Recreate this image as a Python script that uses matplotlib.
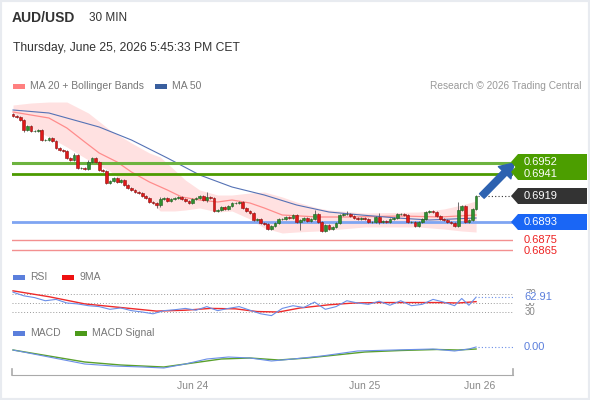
import numpy as np
import matplotlib.pyplot as plt
from matplotlib.patches import Rectangle, Polygon

plt.rcParams['font.family'] = ['Liberation Sans', 'DejaVu Sans']

W, H = 590, 400

# Świece 30 min: zamknięcia, pierwsze otwarcie, knoty (w pipsach)
first_open = 0.7001
closes = [
    0.6999, 0.6998, 0.6995, 0.6985, 0.6989, 0.6984, 0.6984, 0.6985, 0.6975, 0.6975,
    0.6977, 0.6974, 0.6967, 0.6965, 0.6964, 0.6957, 0.6955, 0.6960, 0.6947, 0.6947,
    0.6946, 0.6953, 0.6957, 0.6953, 0.6945, 0.6944, 0.6932, 0.6934, 0.6937, 0.6933,
    0.6935, 0.6930, 0.6927, 0.6925, 0.6923, 0.6922, 0.6919, 0.6917, 0.6913, 0.6912,
    0.6910, 0.6916, 0.6917, 0.6914, 0.6916, 0.6917, 0.6918, 0.6916, 0.6914, 0.6912,
    0.6916, 0.6917, 0.6919, 0.6915, 0.6918, 0.6917, 0.6904, 0.6905, 0.6908, 0.6906,
    0.6909, 0.6912, 0.6912, 0.6913, 0.6907, 0.6904, 0.6902, 0.6895, 0.6896, 0.6892,
    0.6891, 0.6886, 0.6889, 0.6892, 0.6896, 0.6896, 0.6898, 0.6897, 0.6900, 0.6893,
    0.6895, 0.6897, 0.6894, 0.6896, 0.6901, 0.6893, 0.6884, 0.6890, 0.6886, 0.6888,
    0.6892, 0.6900, 0.6901, 0.6901, 0.6899, 0.6897, 0.6896, 0.6897, 0.6896, 0.6893,
    0.6893, 0.6898, 0.6893, 0.6894, 0.6893, 0.6896, 0.6897, 0.6901, 0.6901, 0.6900,
    0.6893, 0.6893, 0.6889, 0.6893, 0.6896, 0.6903, 0.6904, 0.6903, 0.6899, 0.6896,
    0.6895, 0.6893, 0.6892, 0.6889, 0.6905, 0.6909, 0.6893, 0.6895, 0.6906, 0.6919,
]
upper_wick = [
    1, 1, 1, 1, 1, 1, 1, 1, 1, 1,
    1, 1, 1, 1, 1, 1, 1, 2, 1, 1,
    1, 2, 1, 1, 1, 1, 1, 1, 1, 1,
    1, 1, 1, 1, 1, 1, 1, 1, 1, 1,
    1, 2, 1, 1, 1, 1, 1, 1, 1, 1,
    1, 1, 1, 1, 5, 1, 1, 1, 1, 1,
    1, 1, 1, 1, 1, 1, 1, 1, 1, 1,
    1, 1, 1, 1, 1, 1, 1, 1, 1, 1,
    1, 1, 1, 1, 4, 1, 1, 1, 1, 1,
    1, 1, 1, 3, 1, 1, 1, 1, 1, 1,
    1, 1, 4, 1, 1, 1, 1, 1, 1, 1,
    1, 1, 1, 1, 1, 1, 1, 1, 1, 1,
    1, 1, 1, 1, 8, 1, 1, 1, 1, 1,
]
lower_wick = [
    1, 1, 1, 2, 1, 1, 1, 1, 1, 1,
    1, 1, 1, 1, 1, 1, 1, 1, 1, 1,
    1, 1, 1, 1, 1, 1, 1, 1, 1, 1,
    1, 1, 1, 1, 1, 1, 1, 1, 1, 1,
    3, 2, 1, 1, 1, 1, 1, 1, 1, 1,
    1, 1, 1, 1, 2, 1, 1, 1, 1, 1,
    1, 1, 1, 1, 1, 1, 1, 1, 1, 1,
    1, 1, 1, 1, 1, 1, 1, 1, 1, 1,
    8, 1, 1, 1, 1, 1, 1, 1, 1, 1,
    1, 1, 1, 1, 1, 1, 1, 1, 1, 1,
    1, 1, 2, 1, 1, 1, 1, 1, 1, 1,
    1, 1, 1, 1, 1, 1, 1, 1, 1, 1,
    1, 1, 1, 1, 1, 1, 1, 1, 1, 1,
]

# Średnie i wstęgi (indeks świecy, cena)
ma50_idx = [0, 10, 24, 33, 43, 52, 61, 70, 79, 88, 97, 107, 116, 129]
ma50_val = [0.7005, 0.7002, 0.6988, 0.6975, 0.6957, 0.6940, 0.6928, 0.6920,
            0.6910, 0.6903, 0.6900, 0.6897, 0.6895, 0.6897]
ma20_idx = [0, 10, 15, 20, 24, 29, 33, 38, 43, 47, 52, 57, 61, 66, 70, 75, 85, 94, 108, 119, 129]
ma20_val = [0.7003, 0.6997, 0.6987, 0.6973, 0.6962, 0.6953, 0.6943, 0.6933, 0.6925,
            0.6918, 0.6915, 0.6913, 0.6915, 0.6912, 0.6907, 0.6900, 0.6898, 0.6898,
            0.6899, 0.6898, 0.6900]
bb_idx = [0, 5, 10, 15, 21, 27, 33, 38, 41, 45, 48, 52, 57, 61, 66, 70, 75, 79, 85,
          88, 98, 113, 120, 125, 129]
bb_up = [0.7010, 0.7012, 0.7013, 0.7013, 0.7002, 0.6985, 0.6972, 0.6962, 0.6958,
         0.6945, 0.6935, 0.6925, 0.6920, 0.6920, 0.6922, 0.6923, 0.6918, 0.6913,
         0.6907, 0.6905, 0.6902, 0.6903, 0.6906, 0.6910, 0.6914]
bb_dn = [0.7002, 0.6987, 0.6978, 0.6968, 0.6955, 0.6944, 0.6927, 0.6915, 0.6904,
         0.6904, 0.6905, 0.6907, 0.6903, 0.6904, 0.6896, 0.6887, 0.6882, 0.6883,
         0.6884, 0.6885, 0.6888, 0.6888, 0.6886, 0.6884, 0.6883]

# Poziomy
resistances = [0.6952, 0.6941]
last_price = 0.6919
pivot = 0.6893
supports = [0.6875, 0.6865]

# RSI i 9MA
rsi_idx = list(range(0, 124, 3)) + [125, 127, 129]
rsi_val = [74, 66, 62, 55, 58, 50, 48, 44, 42, 36, 39, 33, 30, 26, 33, 35, 38, 34,
           42, 33, 38, 42, 34, 26, 22, 38, 44, 40, 52, 36, 42, 55, 50, 47, 54, 45,
           55, 44, 47, 58, 52, 44, 60, 45, 63]
rsi_last = 62.91
rsi_levels = [70, 50, 30]
ma9_idx = [0, 10, 20, 30, 40, 48, 55, 62, 68, 74, 80, 88, 95, 102, 110, 118, 124, 129]
ma9_val = [77, 64, 48, 40, 32, 34, 38, 37, 31, 30, 39, 46, 50, 51, 51, 51, 50, 53]

# MACD (w pipsach)
macd_idx = [0, 10, 20, 28, 36, 42, 48, 54, 60, 66, 72, 78, 86, 96, 106, 117, 123, 127, 129]
macd_val = [-3, -10, -17, -19, -20, -21, -17, -12, -10, -11, -14, -12, -9, -4, -3, -2, -4, -2, 0]
sig_idx = [0, 10, 20, 30, 42, 50, 58, 66, 74, 82, 90, 98, 108, 118, 124, 129]
sig_val = [-3, -9, -15, -18, -20, -16, -12, -11, -13, -11, -8, -5, -3.5, -2.5, -3, -2]

tick_pos = [50.1, 98.0, 130.1]
tick_labels = ["Jun 24", "Jun 25", "Jun 26"]

XMIN, XMAX = -0.28, 139.28


def rect(x0, y0, x1, y1):
    return [x0 / W, 1 - y1 / H, (x1 - x0) / W, (y1 - y0) / H]


def fp(x, y):
    return (x / W, 1 - y / H)


fig = plt.figure(figsize=(W / 100, H / 100), dpi=100)
fig.patch.set_facecolor('white')
fig.add_artist(Rectangle((0, 0), 1, 1, transform=fig.transFigure, fill=False,
                         edgecolor='#e8ebf0', lw=3))

# Nagłówek
fig.text(*fp(12, 18), "AUD/USD", fontsize=10, fontweight='bold', color='#333333', va='center')
fig.text(*fp(89, 18), "30 MIN", fontsize=8.5, color='#333333', va='center')
fig.text(*fp(13, 48), "Thursday, June 25, 2026 5:45:33 PM CET", fontsize=8.7,
         color='#333333', va='center')


def legend_item(x, y, color, label):
    fig.add_artist(Rectangle(fp(x, y + 2.5), 12 / W, 5 / H, transform=fig.transFigure,
                             color=color, lw=0))
    fig.text(*fp(x + 17, y), label, fontsize=7.5, color='#777777', va='center')


legend_item(13, 86, '#ff8080', "MA 20 + Bollinger Bands")
legend_item(155, 86, '#3a5f9e', "MA 50")
fig.text(*fp(581, 86), "Research © 2026 Trading Central", fontsize=7.3, color='#999999',
         va='center', ha='right')
legend_item(13, 277, '#5b7fdc', "RSI")
legend_item(62, 277, '#ee1111', "9MA")
legend_item(13, 333, '#5b7fdc', "MACD")
legend_item(75, 333, '#4c9a1a', "MACD Signal")

# Wykres główny
ax = fig.add_axes(rect(12, 100, 513, 258))
ax.set_xlim(XMIN, XMAX)
ax.set_ylim(0.6857, 0.7015)
ax.axis('off')

ax.fill_between(bb_idx, bb_dn, bb_up, color='#ffdcdc', alpha=0.85, lw=0)
ax.plot(ma20_idx, ma20_val, color='#ff8c8c', lw=0.9)
ax.plot(ma50_idx, ma50_val, color='#5572b5', lw=0.8)

ax.axhline(resistances[0], color='#6db33f', lw=2.2)
ax.axhline(resistances[1], color='#4c9a00', lw=2.0)
ax.axhline(pivot, color='#7fa5f2', lw=2.0)
for s in supports:
    ax.axhline(s, color='#f39090', lw=1.0)

c = np.array(closes)
o = np.r_[first_open, c[:-1]]
idx = np.arange(len(c))
hi = np.maximum(o, c) + np.array(upper_wick) * 0.0001
lo = np.minimum(o, c) - np.array(lower_wick) * 0.0001
up = c >= o
body = np.where(np.abs(c - o) < 0.00004, 0.00004, np.abs(c - o))
bottom = np.minimum(o, c)
ax.vlines(idx, lo, hi, color='#555555', lw=0.6, zorder=3)
ax.bar(idx[up], body[up], bottom=bottom[up], width=0.78, color='#2f8f2f',
       edgecolor='#1f5f1f', lw=0.4, zorder=4)
ax.bar(idx[~up], body[~up], bottom=bottom[~up], width=0.78, color='#e01818',
       edgecolor='#8f1010', lw=0.4, zorder=4)

ax.plot([idx[-1] + 0.6, XMAX], [last_price] * 2, ls=(0, (1, 2)), color='#333333', lw=0.8)
ax.annotate('', xy=(139.6, resistances[0]), xytext=(130.6, last_price),
            arrowprops=dict(arrowstyle='simple,head_width=0.9,head_length=0.7,tail_width=0.33',
                            color='#2d62b0', mutation_scale=14, shrinkA=0, shrinkB=0),
            annotation_clip=False)


def price_box(y0, y1, color, tip=511, left=518, right=587):
    ym = (y0 + y1) / 2
    pts = [(tip, ym), (left, y0), (right, y0), (right, y1), (left, y1)]
    fig.add_artist(Polygon([fp(x, y) for x, y in pts], closed=True,
                           transform=fig.transFigure, color=color, lw=0))


price_box(154, 170, '#4c9e00')
price_box(164, 180, '#4c9e00')
price_box(188, 204, '#333333')
price_box(214, 230, '#1a66f5')
fig.text(*fp(524, 162), f"{resistances[0]:.4f}", fontsize=8, color='white', va='center')
fig.text(*fp(524, 173.5), f"{resistances[1]:.4f}", fontsize=8, color='white', va='center')
fig.text(*fp(524, 196), f"{last_price:.4f}", fontsize=8, color='white', va='center')
fig.text(*fp(524, 222), f"{pivot:.4f}", fontsize=8, color='white', va='center')
fig.text(*fp(524, 240), f"{supports[0]:.4f}", fontsize=8, color='#ee2222', va='center')
fig.text(*fp(524, 251), f"{supports[1]:.4f}", fontsize=8, color='#ee2222', va='center')

# RSI
axr = fig.add_axes(rect(12, 288, 513, 318))
axr.set_xlim(XMIN, XMAX)
axr.set_ylim(16.7, 83.3)
axr.axis('off')
for lv in rsi_levels:
    axr.axhline(lv, color='#999999', lw=0.7, ls=(0, (1, 2)))
axr.plot(ma9_idx, ma9_val, color='#ee2a2a', lw=1.0)
axr.plot(rsi_idx, rsi_val, color='#6b8fe8', lw=0.8)
axr.plot([idx[-1] + 0.6, XMAX], [rsi_last] * 2, ls=(0, (1, 2)), color='#6b8fe8', lw=0.8)
# etykiety poziomów częściowo zasłonięte przez bieżącą wartość, jak w oryginale
for lv, yy in zip(rsi_levels, [294, 303, 312]):
    fig.text(*fp(525, yy), str(lv), fontsize=7, color='#888888', va='center')
fig.text(*fp(524, 297.5), f"{rsi_last:.2f}", fontsize=8, color='#5b7fdc', va='center',
         bbox=dict(facecolor='white', edgecolor='none', pad=0.3))

# MACD
axm = fig.add_axes(rect(12, 340, 513, 372))
axm.set_xlim(XMIN, XMAX)
axm.set_ylim(-25, 7)
axm.axis('off')
axm.plot(sig_idx, sig_val, color='#5aa02c', lw=1.0)
axm.plot(macd_idx, macd_val, color='#6b8fe8', lw=0.8)
axm.plot([idx[-1] + 0.6, XMAX], [0, 0], ls=(0, (1, 2)), color='#6b8fe8', lw=0.8)
fig.text(*fp(524, 347), f"{macd_val[-1]:.2f}", fontsize=8, color='#5b7fdc', va='center')

# Oś czasu
axx = fig.add_axes(rect(12, 369, 513, 375))
axx.set_xlim(XMIN, XMAX)
axx.set_ylim(0, 1)
for sp in ['top', 'left', 'right']:
    axx.spines[sp].set_visible(False)
axx.spines['bottom'].set_color('#aaaaaa')
axx.plot([XMIN, XMIN], [0, 1], color='#aaaaaa', lw=1.2, clip_on=False)
axx.plot([XMAX, XMAX], [0, 1], color='#aaaaaa', lw=1.2, clip_on=False)
axx.set_yticks([])
axx.set_xticks(tick_pos)
axx.set_xticklabels(tick_labels, fontsize=7.5, color='#888888')
axx.tick_params(axis='x', length=0, pad=4)
axx.patch.set_alpha(0)

fig.savefig('out.png', dpi=100)
